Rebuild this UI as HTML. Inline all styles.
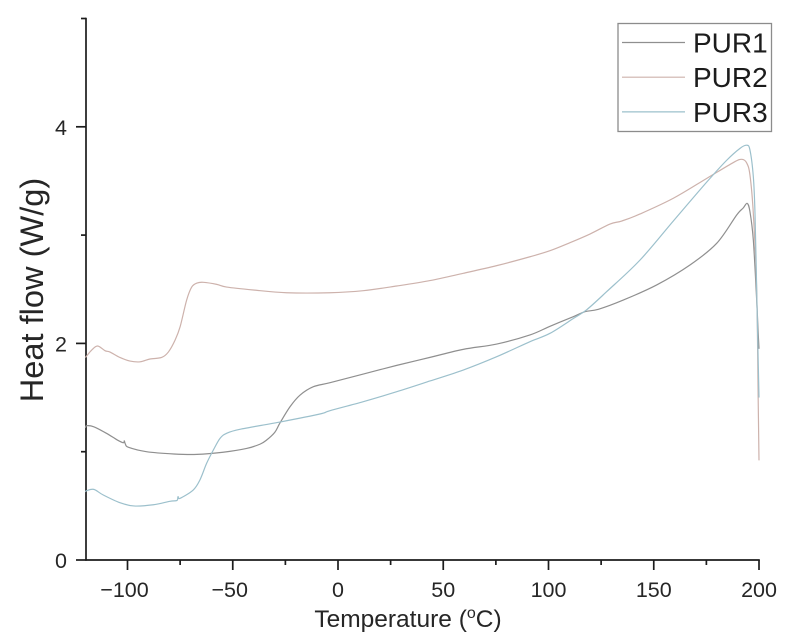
<!DOCTYPE html>
<html lang="en">
<head>
<meta charset="utf-8">
<title>Heat flow vs temperature</title>
<style>
html,body{margin:0;padding:0;background:#fff;width:793px;height:642px;overflow:hidden}
svg{display:block;font-family:"Liberation Sans",Arial,sans-serif}
text{fill:#262626}
</style>
</head>
<body>
<svg id="chart" xmlns="http://www.w3.org/2000/svg" width="793" height="642" viewBox="0 0 793 642">
<defs><filter id="soft" x="-5%" y="-5%" width="110%" height="110%"><feGaussianBlur stdDeviation="0.35"/></filter></defs>
<g id="axes" filter="url(#soft)"></g>
<g id="plot" filter="url(#soft)"></g>
<text filter="url(#soft)" transform="translate(43,290) rotate(-90)" text-anchor="middle" font-size="32.6">Heat flow (W/g)</text>
<text filter="url(#soft)" x="408" y="627" text-anchor="middle" font-size="24.5">Temperature (<tspan font-size="16" dy="-9">o</tspan><tspan dy="9">C)</tspan></text>
<g>
<rect x="618" y="23.5" width="153.5" height="108" fill="#fff" stroke="#8c8c8c" stroke-width="1.3"/>
<g id="legend-entries" filter="url(#soft)"></g>
</g>
</svg>
<script>
const seriesNames = ['PUR1', 'PUR2', 'PUR3'];
const seriesColors = ['#8f8f8f', '#cdb2ac', '#9cc0cc'];
const xTickLabels = [-100, -50, 0, 50, 100, 150, 200];
const xMinorTicks = [-75, -25, 25, 75, 125, 175];
const yTickLabels = [0, 2, 4];
const yMinorTicks = [1, 3, 5];

const pur1Temp = [-120,-119.4,-116,-110,-105,-102,-101.5,-101,-99.5,-91,-78,-67,-54.6,-43.4,-37,-33.9,-30,-27.6,-22.8,-18,-11.7,-3.8,12,27.9,43.7,59.5,75.4,91.2,100.7,111.8,117.3,123.7,135.5,151.4,167.2,179.9,189.4,192.5,194.4,195.7,197.3,198.9,199.6,200];
const pur1Flow = [1.22,1.24,1.23,1.17,1.11,1.083,1.1,1.07,1.04,1.0,0.979,0.975,0.995,1.03,1.07,1.108,1.18,1.264,1.415,1.523,1.6,1.637,1.717,1.797,1.871,1.945,1.994,2.078,2.158,2.247,2.293,2.315,2.40,2.54,2.724,2.924,3.186,3.25,3.293,3.216,2.955,2.4,2.1,1.95];

const pur2Temp = [-120,-119.4,-117,-114.2,-110.7,-108.3,-103.6,-98.8,-94,-89.3,-83.8,-80.6,-77.4,-75,-71.9,-69.5,-67,-64,-57.6,-52.9,-40.2,-24.4,-3.8,12,27.9,43.7,59.5,75.4,91.2,100.7,110.2,119.7,129.2,134.8,143.5,159.3,175.2,187.8,191.8,194.1,195.7,197.3,198.9,199.6,200];
const pur2Flow = [1.87,1.884,1.939,1.976,1.933,1.92,1.87,1.837,1.83,1.856,1.87,1.92,2.03,2.154,2.4,2.52,2.557,2.564,2.545,2.52,2.493,2.468,2.468,2.487,2.53,2.58,2.647,2.718,2.80,2.856,2.93,3.01,3.102,3.13,3.195,3.34,3.524,3.67,3.70,3.668,3.555,3.2,2.49,1.5,0.92];

const pur3Temp = [-120,-119.4,-116,-111.5,-103.6,-97,-87.7,-79.8,-76.5,-76,-75,-68.8,-65.6,-62.4,-59.2,-56,-52.9,-46.6,-27.6,-8.6,-3.8,12,27.9,43.7,59.5,75.4,91.2,100.7,111.8,118.1,127.6,143.5,159.3,175.2,184.6,190.9,194.1,195.7,197.3,198.1,199,199.6,200];
const pur3Flow = [0.63,0.64,0.652,0.6,0.529,0.499,0.51,0.542,0.55,0.585,0.57,0.646,0.739,0.893,1.016,1.124,1.17,1.207,1.274,1.348,1.379,1.462,1.554,1.653,1.754,1.877,2.016,2.093,2.23,2.31,2.477,2.77,3.13,3.49,3.69,3.80,3.83,3.786,3.54,3.2,2.4,1.85,1.5];

const seriesTemps = [pur1Temp, pur2Temp, pur3Temp];
const seriesFlows = [pur1Flow, pur2Flow, pur3Flow];

const NS = 'http://www.w3.org/2000/svg';
const xScale = t => 338 + (t * 2.105);
const yScale = v => 560 - (v * 108.3);

function make(tag, attrs, parent) {
  const el = document.createElementNS(NS, tag);
  for (const k in attrs) el.setAttribute(k, attrs[k]);
  parent.appendChild(el);
  return el;
}

function smoothPath(temps, flows) {
  const p = temps.map((t, j) => [xScale(t), yScale(flows[j])]);
  let d = 'M' + p[0][0].toFixed(2) + ' ' + p[0][1].toFixed(2);
  for (let i = 0; i < p.length - 1; i++) {
    const a = p[Math.max(i - 1, 0)], b = p[i], c = p[i + 1], e = p[Math.min(i + 2, p.length - 1)];
    const k = 1 / 6;
    d += ' C' + (b[0] + (c[0] - a[0]) * k).toFixed(2) + ' ' + (b[1] + (c[1] - a[1]) * k).toFixed(2) +
         ' ' + (c[0] - (e[0] - b[0]) * k).toFixed(2) + ' ' + (c[1] - (e[1] - b[1]) * k).toFixed(2) +
         ' ' + c[0].toFixed(2) + ' ' + c[1].toFixed(2);
  }
  return d;
}

const axes = document.getElementById('axes');
const plot = document.getElementById('plot');
const legendEntries = document.getElementById('legend-entries');
const axisStroke = { stroke: '#1c1c1c', 'stroke-width': 1.7 };

const xAxisLine = make('line', { x1: 85.6, y1: 560, x2: xScale(200) + 0.8, y2: 560, ...axisStroke }, axes);


const yAxisLine = make('line', { x1: 86, y1: 560.8, x2: 86, y2: yScale(5) - 0.8, ...axisStroke }, axes);



xTickLabels.forEach(v => {
  const tick = make('line', { x1: xScale(v), y1: 560, x2: xScale(v), y2: 570, ...axisStroke }, axes);
  
  
  const label = make('text', { x: xScale(v) - (v < 0 ? 3 : 0), y: 597, 'text-anchor': 'middle', 'font-size': 21.5 }, axes);
  label.textContent = v < 0 ? '\u2212' + Math.abs(v) : String(v);
  
  
});
xMinorTicks.forEach(v => {
  const tick = make('line', { x1: xScale(v), y1: 560, x2: xScale(v), y2: 565, ...axisStroke }, axes);
  
  
});
yTickLabels.forEach(v => {
  const tick = make('line', { x1: 76, y1: yScale(v), x2: 86, y2: yScale(v), ...axisStroke }, axes);
  
  
  const label = make('text', { x: 67, y: yScale(v) + 8, 'text-anchor': 'end', 'font-size': 21.5 }, axes);
  label.textContent = String(v);
  
  
});
yMinorTicks.forEach(v => {
  const tick = make('line', { x1: 81, y1: yScale(v), x2: 86, y2: yScale(v), ...axisStroke }, axes);
  
  
});

seriesNames.forEach((name, i) => {
  const line = make('path', { d: smoothPath(seriesTemps[i], seriesFlows[i]), fill: 'none', stroke: seriesColors[i], 'stroke-width': 1.2, 'stroke-linejoin': 'round' }, plot);
  
  

  const rowY = 42.5 + i * 34.7;
  const swatch = make('line', { x1: 622, y1: rowY, x2: 685, y2: rowY, stroke: seriesColors[i], 'stroke-width': 1.2 }, legendEntries);
  
  
  const label = make('text', { x: 693, y: rowY + 10, 'font-size': 28, style: 'fill:#1c1c1c' }, legendEntries);
  label.textContent = name;
  
  
});
</script>
</body>
</html>
